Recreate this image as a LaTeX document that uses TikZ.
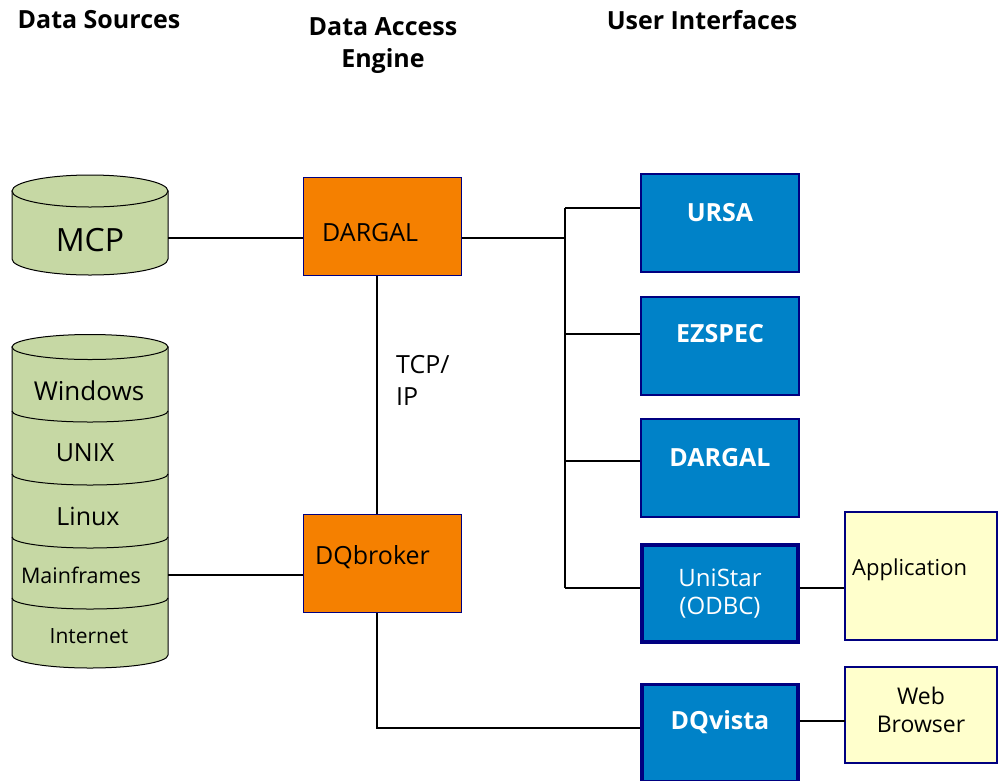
\documentclass[tikz,border=0pt]{standalone}
\usepackage{fontspec}
\setmainfont{Open Sans}
\definecolor{cOrange}{HTML}{F58000}
\definecolor{cBlue}{HTML}{0082C8}
\definecolor{cNavy}{HTML}{000080}
\definecolor{cGreen}{HTML}{C6D8A4}
\definecolor{cYellow}{HTML}{FFFFCC}
\usetikzlibrary{calc}

\begin{document}
\begin{tikzpicture}[x=1pt, y=-1pt,
	engine/.style={draw=cNavy, fill=cOrange, line width=1pt, minimum width=158pt, minimum height=98pt},
	ui/.style={draw=cNavy, fill=cBlue, line width=1.5pt, minimum width=158pt, minimum height=98pt},
	uiheavy/.style={ui, line width=3.5pt, minimum width=156pt, minimum height=97pt},
	app/.style={draw=cNavy, fill=cYellow, line width=1.2pt},
	src/.style={draw=black, fill=cGreen, line width=1pt},
	title/.style={font=\bfseries\fontsize{25}{32}\selectfont, align=center},
	txt/.style={font=\fontsize{25}{32}\selectfont, inner sep=0pt},
	uitxt/.style={txt, text=white, align=center},
	link/.style={draw=black, line width=1.2pt}]
			\clip (0,0) rectangle (998,780);
			% headings
			\node[title] (hsrc) at (99,20) {Data Sources};
			\node[title] (heng) at (383,46) {Data Access\\Engine};
			\node[title] (hui) at (702,20) {User Interfaces};
			% data sources
			\draw[src] (12,191) -- (12,259) arc[start angle=180, end angle=0, x radius=78, y radius=16] -- (168,191) -- cycle;
			\draw[src] (90,191) ellipse[x radius=78, y radius=16];
			\node[txt, font=\fontsize{32}{36}\selectfont] (mcp) at (90,240) {MCP};
			\draw[src] (12,347) -- (12,655) arc[start angle=180, end angle=0, x radius=78, y radius=13] -- (168,347) -- cycle;
			\draw[src] (90,347) ellipse[x radius=78, y radius=12.5];
			\foreach \y in {411,474,537,598}
				\draw[src, fill=none] (12,\y) arc[start angle=180, end angle=0, x radius=78, y radius=11];
			\node[txt, font=\fontsize{26}{30}\selectfont] (win) at (89,391) {Windows};
			\node[txt] (unix) at (85,453) {UNIX};
			\node[txt] (linux) at (88,516) {Linux};
			\node[txt, font=\fontsize{21.5}{24}\selectfont] (mainfr) at (81,575) {Mainframes};
			\node[txt, font=\fontsize{21}{24}\selectfont] (inet) at (89,636) {Internet};
			% engine
			\node[engine] (dargal) at (382,226) {};
			\node[txt, anchor=west] at (322,233) {DARGAL};
			\node[engine] (dqbroker) at (382,563.5) {};
			\node[txt, anchor=west] at (315,557) {DQbroker};
			\node[txt, align=left, anchor=west] (tcp) at (396,380) {TCP/\\IP};
			% user interfaces
			\node[ui] (ursa) at (720,223) {};
			\node[uitxt, font=\bfseries\fontsize{25}{28}\selectfont] at (720,213) {URSA};
			\node[ui] (ezspec) at (720,346) {};
			\node[uitxt, font=\bfseries\fontsize{25}{28}\selectfont] at (720,334) {EZSPEC};
			\node[ui] (dargalui) at (720,468) {};
			\node[uitxt, font=\bfseries\fontsize{25}{28}\selectfont] at (720,458) {DARGAL};
			\node[uiheavy] (unistar) at (720,593.5) {};
			\node[uitxt, font=\fontsize{24}{28}\selectfont] at (720,594) {UniStar\\(ODBC)};
			\node[uiheavy] (dqvista) at (720,733) {};
			\node[uitxt, font=\bfseries\fontsize{25}{28}\selectfont] at (720,722) {DQvista};
			\node[app, minimum width=152pt, minimum height=128pt] (appl) at (921,576) {};
			\node[txt, font=\fontsize{22}{28}\selectfont, anchor=west] at (852,570) {Application};
			\node[app, minimum width=152pt, minimum height=96pt] (web) at (921,715) {};
			\node[txt, font=\fontsize{23}{28}\selectfont, align=center] at (921,710) {Web\\Browser};
			% connectors
			\coordinate (mcpR) at (168,238);
			\coordinate (stackR) at (168,575);
			\coordinate (busT) at (565,208);
			\coordinate (busE) at (565,334);
			\coordinate (busD) at (565,461);
			\coordinate (busB) at (565,588);
			\coordinate (webL) at (845,721);
			\draw[link] (mcpR) -- (mcpR -| dargal.west);
			\draw[link] (stackR) -- (stackR -| dqbroker.west);
			\draw[link] ($(dargal.south)+(-5,0)$) -- ($(dqbroker.north)+(-5,0)$);
			\draw[link] ($(dqbroker.south)+(-5,0)$) |- ($(dqvista.west)+(0,-5)$);
			\draw[link] (mcpR -| dargal.east) -- (mcpR -| busT);
			\draw[link] (busT) -- (busB);
			\draw[link] (busT) -- (busT -| ursa.west);
			\draw[link] (busE) -- (busE -| ezspec.west);
			\draw[link] (busD) -- (busD -| dargalui.west);
			\draw[link] (busB) -- (busB -| unistar.west);
			\draw[link] (busB -| unistar.east) -- (busB -| appl.west);
			\draw[link] (webL -| dqvista.east) -- (webL);
		\end{tikzpicture}
\end{document}
